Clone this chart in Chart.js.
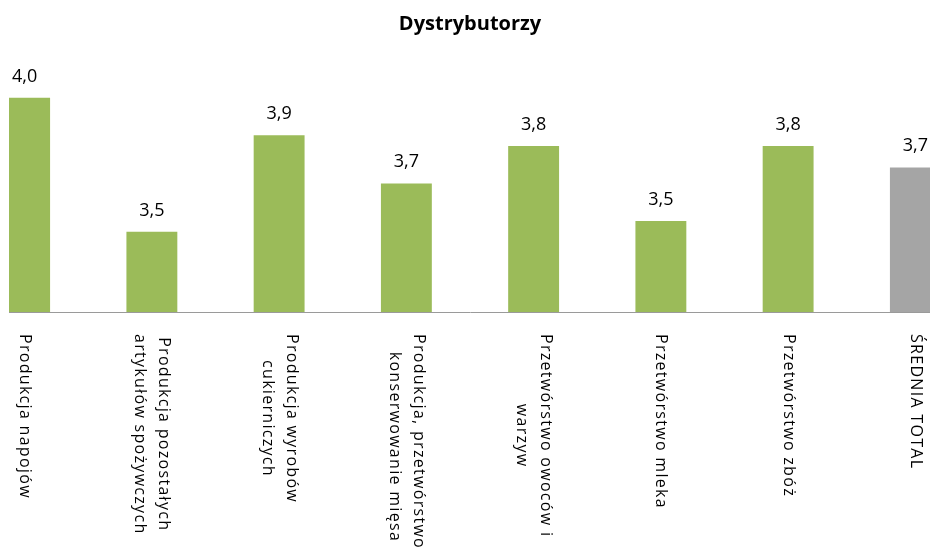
<!DOCTYPE html>
<html>
<head>
<meta charset="utf-8">
<script src="https://cdn.jsdelivr.net/npm/chart.js@4.4.1/dist/chart.umd.min.js"></script>
<style>
  html, body { margin: 0; padding: 0; background: #fff; }
  body { width: 930px; height: 554px; position: relative; overflow: hidden; }
  #frame { position: absolute; left: 9px; top: 0; width: 921px; height: 554px; overflow: hidden; }
  #frame canvas { position: absolute; left: -48px; top: 0; }
</style>
</head>
<body>
<div id="frame"><canvas id="chart" width="1018" height="554"></canvas></div>
<script>
// categories, each split into the lines shown under the axis
var categories = [
    ["Produkcja napojów"],
    ["Produkcja pozostałych", "artykułów spożywczych"],
    ["Produkcja wyrobów", "cukierniczych"],
    ["Produkcja, przetwórstwo i", "konserwowanie mięsa"],
    ["Przetwórstwo owoców i", "warzyw"],
    ["Przetwórstwo mleka"],
    ["Przetwórstwo zbóż"],
    ["ŚREDNIA TOTAL"]
];
var ratings = [4.00, 3.50, 3.86, 3.68, 3.82, 3.54, 3.82, 3.74];
var barColors = ["#9BBB59", "#9BBB59", "#9BBB59", "#9BBB59", "#9BBB59", "#9BBB59", "#9BBB59", "#A5A5A5"];
var axisMin = 3.2;
var axisMax = 4.1;

var FONT = "'Open Sans', sans-serif";

function formatValue(v) {
    return v.toFixed(1).replace(".", ",");
}

// value above every bar
var valueLabels = {
    id: "valueLabels",
    afterDatasetsDraw: function(chart) {
        var ctx = chart.ctx;
        var meta = chart.getDatasetMeta(0);
        ctx.save();
        ctx.font = "18px " + FONT;
        ctx.fillStyle = "#000";
        ctx.textAlign = "center";
        ctx.textBaseline = "alphabetic";
        meta.data.forEach(function(bar, i) {
            ctx.fillText(formatValue(ratings[i]), bar.x, bar.y - 16);
        });
        ctx.restore();
    }
};

// category names, turned to read top-down
var categoryLabels = {
    id: "categoryLabels",
    afterDraw: function(chart) {
        var ctx = chart.ctx;
        var xScale = chart.scales.x;
        var top = chart.chartArea.bottom + 22;
        var lineGap = 24;
        ctx.save();
        ctx.font = "16px " + FONT;
        ctx.letterSpacing = "1.3px";
        ctx.fillStyle = "#000";
        ctx.textAlign = "center";
        ctx.textBaseline = "middle";
        categories.forEach(function(lines, i) {
            var x = xScale.getPixelForValue(i);
            var blockLen = 0;
            lines.forEach(function(line) {
                blockLen = Math.max(blockLen, ctx.measureText(line).width);
            });
            ctx.save();
            ctx.translate(x, top);
            ctx.rotate(Math.PI / 2);
            lines.forEach(function(line, j) {
                var offset = (j - (lines.length - 1) / 2) * lineGap;
                ctx.fillText(line, blockLen / 2, offset);
            });
            ctx.restore();
        });
        ctx.restore();
    }
};

var ctx = document.getElementById("chart").getContext("2d");

var chart = new Chart(ctx, {
    type: "bar",
    data: {
        labels: categories,
        datasets: [
            {
                label: "Dystrybutorzy",
                data: ratings,
                backgroundColor: barColors,
                borderWidth: 0,
                barPercentage: 0.4,
                categoryPercentage: 1.0
            }
        ]
    },
    options: {
        responsive: false,
        animation: false,
        layout: {
            padding: { top: 0, bottom: 242, left: 0, right: 0 }
        },
        plugins: {
            legend: { display: false },
            tooltip: { enabled: false },
            title: {
                display: true,
                text: "Dystrybutorzy",
                color: "#000",
                font: { family: FONT, size: 20, weight: "bold" },
                padding: { top: 12, bottom: 35 }
            }
        },
        scales: {
            x: {
                ticks: { display: false },
                grid: { display: false },
                border: { display: true, color: "#9a9a9a", width: 1 },
                afterFit: function(scale) { scale.height = 0; }
            },
            y: {
                display: false,
                min: axisMin,
                max: axisMax
            }
        }
    },
    plugins: [valueLabels, categoryLabels]
});
</script>
</body>
</html>
